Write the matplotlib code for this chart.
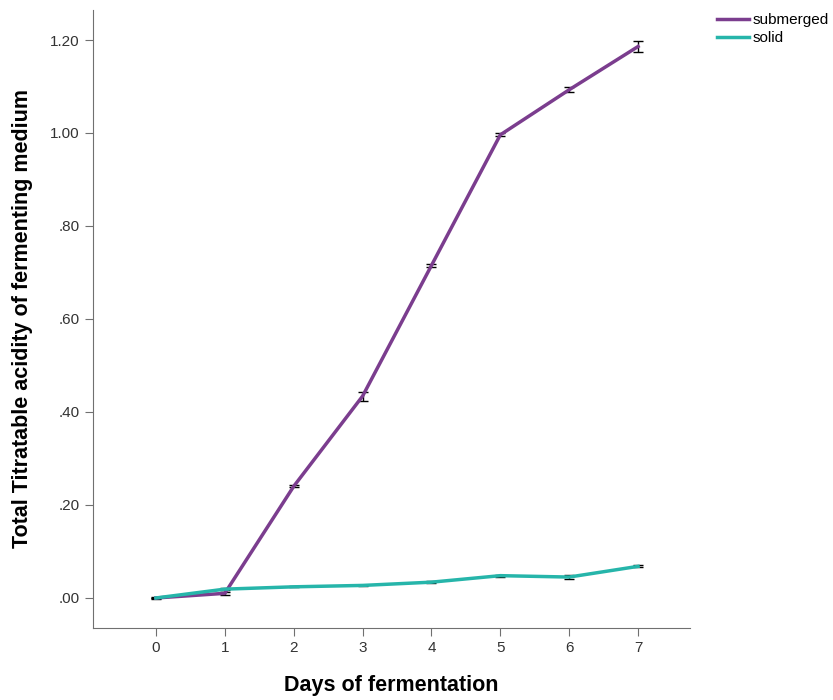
import matplotlib
matplotlib.use("Agg")
import matplotlib.pyplot as plt
from matplotlib.ticker import FuncFormatter

plt.rcParams['font.family'] = ['Liberation Sans', 'DejaVu Sans']

# data
days = [0, 1, 2, 3, 4, 5, 6, 7]
submerged = [0.000, 0.010, 0.240, 0.434, 0.715, 0.996, 1.093, 1.186]
submerged_err = [0.002, 0.003, 0.002, 0.010, 0.003, 0.003, 0.005, 0.012]
solid = [0.000, 0.019, 0.024, 0.027, 0.034, 0.048, 0.045, 0.068]
solid_err = [0.001, 0.002, 0.001, 0.001, 0.002, 0.002, 0.004, 0.002]

fig = plt.figure(figsize=(8.33, 7), dpi=100)
ax = fig.add_axes([0.1116, 0.1029, 0.7164, 0.8828])

ax.errorbar(days, submerged, yerr=submerged_err, color="#7b3d8e", lw=2.5,
            ecolor="black", elinewidth=1, capsize=3.5, capthick=1, label="submerged")
ax.errorbar(days, solid, yerr=solid_err, color="#26b5aa", lw=2.5,
            ecolor="black", elinewidth=1, capsize=3.5, capthick=1, label="solid")

ax.set_xlim(-0.914, 7.75)
ax.set_ylim(-0.0645, 1.2645)
ax.set_xticks(days)
ax.set_yticks([0, 0.2, 0.4, 0.6, 0.8, 1.0, 1.2])
ax.yaxis.set_major_formatter(FuncFormatter(lambda v, p: ("%.2f" % v).lstrip("0") if v < 1 else "%.2f" % v))

for s in ["top", "right"]:
    ax.spines[s].set_visible(False)
for s in ["left", "bottom"]:
    ax.spines[s].set_color("#707070")
ax.tick_params(direction="out", length=6, color="#707070", labelsize=11, labelcolor="#333333")

ax.set_xlabel("Days of fermentation", fontsize=15.5, fontweight="bold", labelpad=14)
ax.set_ylabel("Total Titratable acidity of fermenting medium", fontsize=15.5, fontweight="bold", labelpad=12)

handles, labels = ax.get_legend_handles_labels()
handles = [h[0] for h in handles]
fig.legend(handles, labels, loc="upper left", bbox_to_anchor=(0.852, 0.992), frameon=False,
           fontsize=11, handlelength=2.1, handletextpad=0.2, labelspacing=0.25, borderpad=0)

fig.savefig("out.png", dpi=100)
